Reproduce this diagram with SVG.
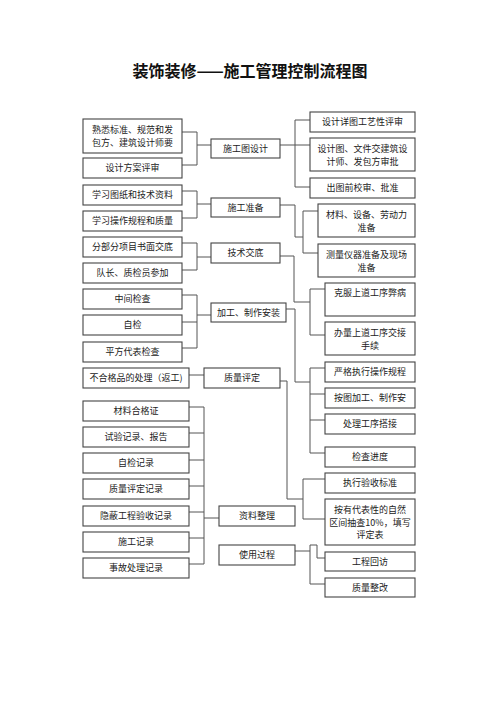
<svg xmlns="http://www.w3.org/2000/svg" width="500" height="707" viewBox="0 0 500 707">
<style>
.box{fill:#fff;stroke:#444;stroke-width:1.1}
.t{font-family:"Noto Sans CJK SC","Noto Sans",sans-serif;font-size:9px;fill:#222;text-anchor:middle}
.c{fill:none;stroke:#555;stroke-width:1}
.title{font-family:"Noto Sans CJK SC","Noto Sans",sans-serif;font-size:16px;font-weight:bold;fill:#111;text-anchor:middle}
</style>
<rect width="500" height="707" fill="#fff"/>
<text class="title" x="250" y="77">装饰装修——施工管理控制流程图</text>
<g id="connectors">
<path class="c" d="M182,132H197V165H182M197,145H211"/>
<path class="c" d="M280,145H310M295,120V187M295,120H310M295,187H310"/>
<path class="c" d="M182,191H197V218H182M197,204H211"/>
<path class="c" d="M280,205H295V237H303M303,211V253M303,211H318M303,253H318"/>
<path class="c" d="M182,243H197V270H182M197,257H211"/>
<path class="c" d="M280,256H294V302H310M310,289V335M310,289H325M310,335H325"/>
<path class="c" d="M182,295H197V348H182M182,322H197M197,315H211"/>
<path class="c" d="M286,309H295V382H310M310,368V453M310,368H325M310,394H325M310,420H325M310,453H325"/>
<path class="c" d="M189,375H204"/>
<path class="c" d="M280,381H287V499H303M303,479V519M303,479H325M303,519H325"/>
<path class="c" d="M204,407V564M189,407H204M189,433H204M189,460H204M189,486H204M189,512H204M189,538H204M189,564H204M204,518H219"/>
<path class="c" d="M295,551H310M310,545V584M310,545H317V558H325M310,584H325"/>
</g>
<g id="L1"><rect class="box" x="83" y="119" width="99" height="34"/><text class="t" x="132.5" y="133">熟悉标准、规范和发</text><text class="t" x="132.5" y="146">包方、建筑设计师要</text></g>
<g id="L2"><rect class="box" x="83" y="158" width="99" height="20"/><text class="t" x="132.5" y="171">设计方案评审</text></g>
<g id="L3"><rect class="box" x="83" y="185" width="99" height="20"/><text class="t" x="132.5" y="198">学习图纸和技术资料</text></g>
<g id="L4"><rect class="box" x="83" y="211" width="99" height="20"/><text class="t" x="132.5" y="224">学习操作规程和质量</text></g>
<g id="L5"><rect class="box" x="83" y="237" width="99" height="20"/><text class="t" x="132.5" y="250">分部分项目书面交底</text></g>
<g id="L6"><rect class="box" x="83" y="263" width="99" height="20"/><text class="t" x="132.5" y="276">队长、质检员参加</text></g>
<g id="L7"><rect class="box" x="83" y="289" width="99" height="20"/><text class="t" x="132.5" y="302">中间检查</text></g>
<g id="L8"><rect class="box" x="83" y="315" width="99" height="20"/><text class="t" x="132.5" y="328">自检</text></g>
<g id="L9"><rect class="box" x="83" y="342" width="99" height="20"/><text class="t" x="132.5" y="355">平方代表检查</text></g>
<g id="L10"><rect class="box" x="83" y="368" width="106" height="20"/><text class="t" x="136" y="381">不合格品的处理（返工)</text></g>
<g id="R1"><rect class="box" x="83" y="401" width="106" height="20"/><text class="t" x="136" y="414">材料合格证</text></g>
<g id="R2"><rect class="box" x="83" y="427" width="106" height="20"/><text class="t" x="136" y="440">试验记录、报告</text></g>
<g id="R3"><rect class="box" x="83" y="453" width="106" height="20"/><text class="t" x="136" y="466">自检记录</text></g>
<g id="R4"><rect class="box" x="83" y="479" width="106" height="20"/><text class="t" x="136" y="492">质量评定记录</text></g>
<g id="R5"><rect class="box" x="83" y="506" width="106" height="20"/><text class="t" x="136" y="519">隐蔽工程验收记录</text></g>
<g id="R6"><rect class="box" x="83" y="532" width="106" height="20"/><text class="t" x="136" y="545">施工记录</text></g>
<g id="R7"><rect class="box" x="83" y="558" width="106" height="20"/><text class="t" x="136" y="571">事故处理记录</text></g>
<g id="M1"><rect class="box" x="211" y="139" width="69" height="19"/><text class="t" x="245.5" y="152">施工图设计</text></g>
<g id="M2"><rect class="box" x="211" y="198" width="69" height="19"/><text class="t" x="245.5" y="211">施工准备</text></g>
<g id="M3"><rect class="box" x="211" y="243" width="69" height="20"/><text class="t" x="245.5" y="256">技术交底</text></g>
<g id="M4"><rect class="box" x="211" y="303" width="75" height="19"/><text class="t" x="248.5" y="316">加工、制作安装</text></g>
<g id="M5"><rect class="box" x="204" y="368" width="76" height="20"/><text class="t" x="242" y="381">质量评定</text></g>
<g id="M6"><rect class="box" x="219" y="506" width="76" height="20"/><text class="t" x="257" y="519">资料整理</text></g>
<g id="M7"><rect class="box" x="219" y="545" width="76" height="20"/><text class="t" x="257" y="558">使用过程</text></g>
<g id="Rt1"><rect class="box" x="310" y="112" width="105" height="20"/><text class="t" x="362.5" y="125">设计详图工艺性评审</text></g>
<g id="Rt2"><rect class="box" x="310" y="138" width="105" height="33"/><text class="t" x="362.5" y="152">设计图、文件交建筑设</text><text class="t" x="362.5" y="165">计师、发包方审批</text></g>
<g id="Rt3"><rect class="box" x="310" y="178" width="105" height="20"/><text class="t" x="362.5" y="191">出图前校审、批准</text></g>
<g id="Rt4"><rect class="box" x="318" y="204" width="97" height="33"/><text class="t" x="366.5" y="218">材料、设备、劳动力</text><text class="t" x="366.5" y="231">准备</text></g>
<g id="Rt5"><rect class="box" x="318" y="244" width="97" height="33"/><text class="t" x="366.5" y="258">测量仪器准备及现场</text><text class="t" x="366.5" y="271">准备</text></g>
<g id="Rt6"><rect class="box" x="325" y="283" width="90" height="33"/><text class="t" x="370" y="296">克服上道工序弊病</text></g>
<g id="Rt7"><rect class="box" x="325" y="322" width="90" height="33"/><text class="t" x="370" y="336">办量上道工序交接</text><text class="t" x="370" y="349">手续</text></g>
<g id="Rt8"><rect class="box" x="325" y="362" width="90" height="20"/><text class="t" x="370" y="375">严格执行操作规程</text></g>
<g id="Rt9"><rect class="box" x="325" y="388" width="90" height="20"/><text class="t" x="370" y="401">按图加工、制作安</text></g>
<g id="Rt10"><rect class="box" x="325" y="414" width="90" height="20"/><text class="t" x="370" y="427">处理工序搭接</text></g>
<g id="Rt11"><rect class="box" x="325" y="447" width="90" height="20"/><text class="t" x="370" y="460">检查进度</text></g>
<g id="Rt12"><rect class="box" x="325" y="473" width="90" height="20"/><text class="t" x="370" y="486">执行验收标准</text></g>
<g id="Rt13"><rect class="box" x="325" y="499" width="90" height="46"/><text class="t" x="370" y="513">按有代表性的自然</text><text class="t" x="370" y="526">区间抽查10%，填写</text><text class="t" x="370" y="538">评定表</text></g>
<g id="Rt14"><rect class="box" x="325" y="552" width="90" height="19"/><text class="t" x="370" y="565">工程回访</text></g>
<g id="Rt15"><rect class="box" x="325" y="578" width="90" height="19"/><text class="t" x="370" y="591">质量整改</text></g>
</svg>
